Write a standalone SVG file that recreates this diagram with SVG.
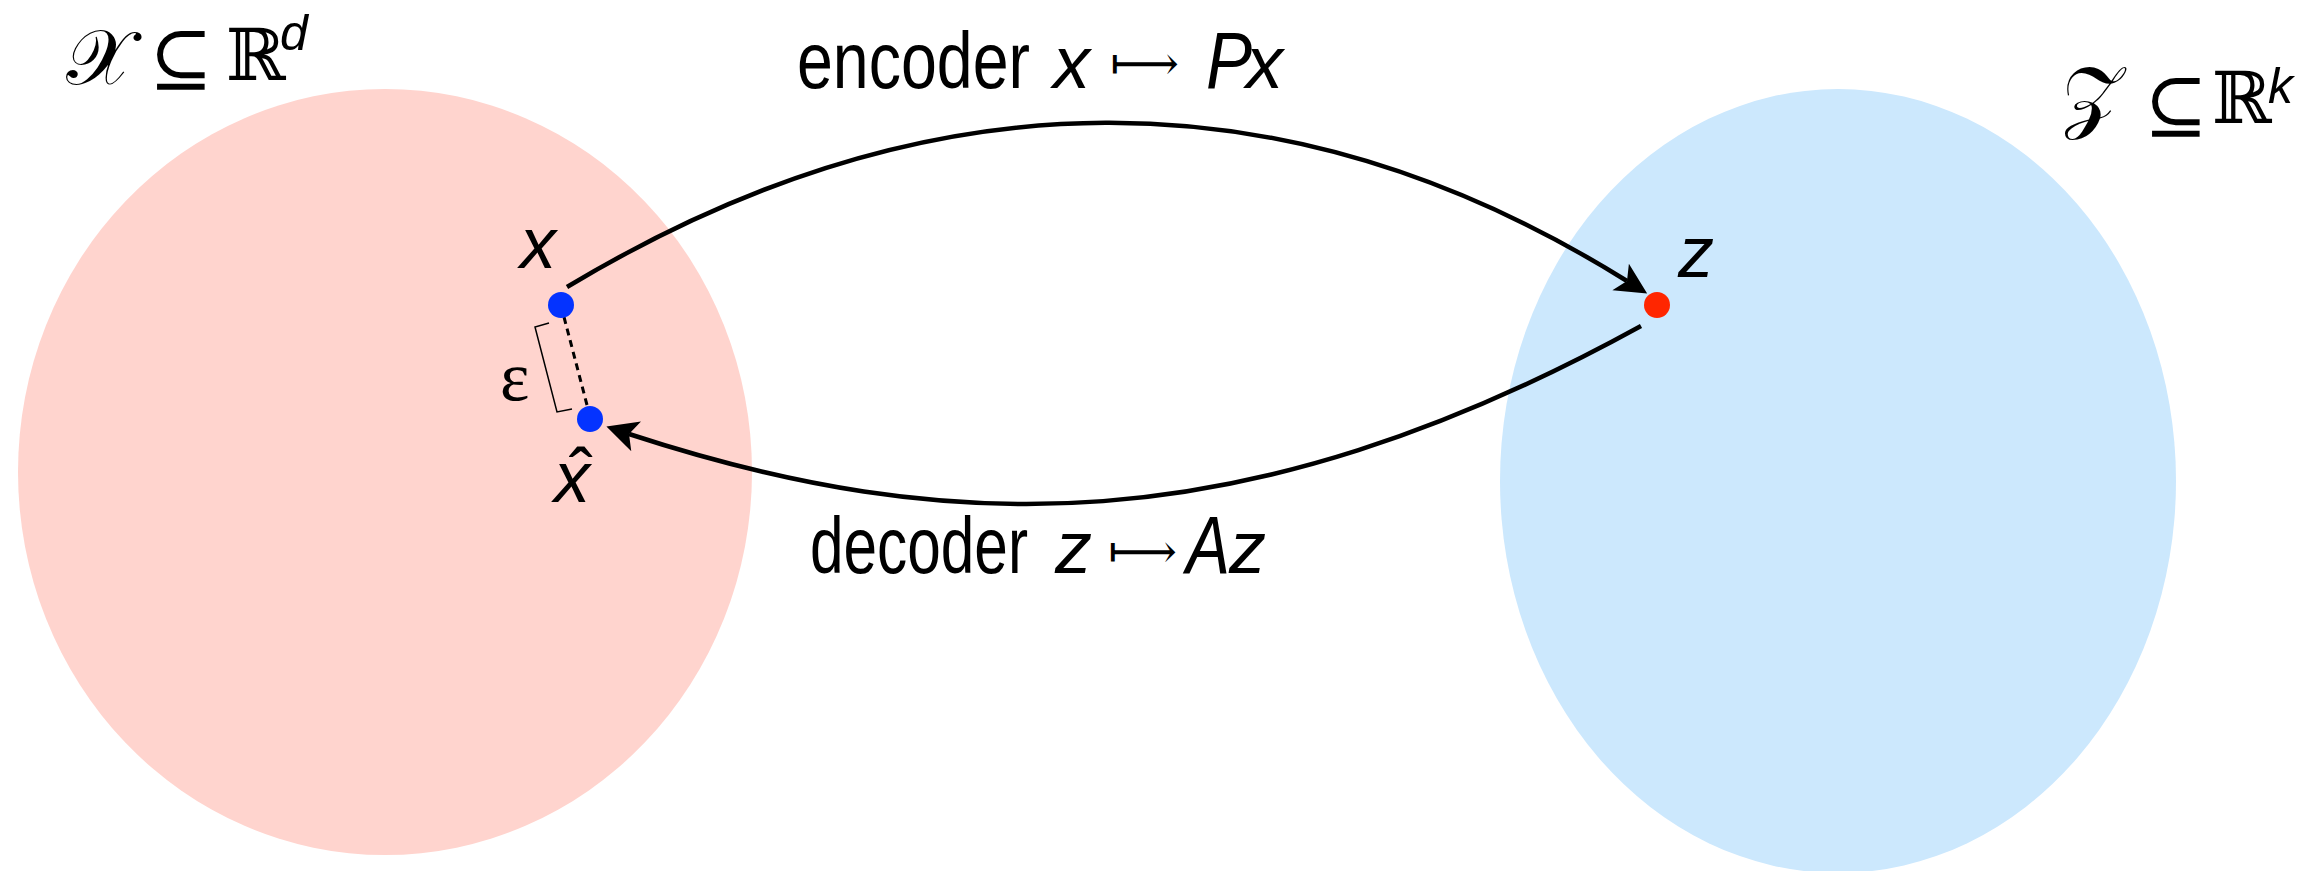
<svg xmlns="http://www.w3.org/2000/svg" width="2303" height="871" viewBox="0 0 2303 871">
<style>
.sans{font-family:"Liberation Sans",Arial,sans-serif;fill:#000}
.it{font-family:"Liberation Sans",Arial,sans-serif;font-style:italic;fill:#000}
.math{font-family:"DejaVu Serif","DejaVu Sans","Noto Sans",serif;fill:#000}
.arrow{fill:none;stroke:#000;stroke-width:4.5}
</style>
<defs>
<marker id="head" markerUnits="userSpaceOnUse" markerWidth="40" markerHeight="40" viewBox="-10 -15 32 30" refX="0" refY="0" orient="auto">
<path d="M19,0 L-6,-12.5 L0,0 L-6,12.5 Z" fill="#000"/>
</marker>
</defs>
<g id="set-X">
<ellipse cx="385" cy="472" rx="367" ry="383" fill="#FFD4CE"/>
<text class="math" x="66" y="84" font-size="78">𝒳</text>
<text class="math" x="149" y="84" font-size="76">⊆</text>
<text class="math" x="226" y="80" font-size="72">ℝ</text>
<text class="it" x="280" y="50" font-size="50">d</text>
</g>
<g id="set-Z">
<ellipse cx="1838" cy="481" rx="338" ry="392" fill="#CCE8FD"/>
<text class="math" x="2062" y="123" font-size="80">𝒵</text>
<text class="math" x="2144" y="131" font-size="76">⊆</text>
<text class="math" x="2212" y="123" font-size="72">ℝ</text>
<text class="it" x="2268" y="103" font-size="50">k</text>
</g>
<g id="connectors">
<path class="arrow" d="M567,287 C930,69 1287,69 1627,281" marker-end="url(#head)"/>
<path class="arrow" d="M1641,326 C1241,546 944,537 629,434" marker-end="url(#head)"/>
<line x1="564" y1="317" x2="587" y2="405" stroke="#000" stroke-width="3" stroke-dasharray="7,5"/>
<polyline points="549,323 535,327 557,412 572,409" fill="none" stroke="#000" stroke-width="1.5"/>
</g>
<g id="node-x">
<circle cx="561" cy="305" r="13" fill="#0433FF"/>
<text class="it" x="520" y="268" font-size="72">x</text>
</g>
<g id="node-xhat">
<circle cx="590" cy="419" r="13" fill="#0433FF"/>
<text class="it" x="554" y="502" font-size="72">x</text>
<text class="sans" x="569" y="500" font-size="72">ˆ</text>
</g>
<g id="node-z">
<circle cx="1657" cy="305" r="13" fill="#FF2600"/>
<text class="it" x="1678" y="277" font-size="72">z</text>
</g>
<g id="labels">
<text x="500" y="400" font-size="70" font-family="Liberation Serif, serif" fill="#000">ε</text>
<text class="sans" x="797" y="88" font-size="80" textLength="233" lengthAdjust="spacingAndGlyphs">encoder</text>
<text class="it" x="1053" y="88" font-size="74">x</text>
<text class="math" x="1110" y="80" font-size="48">⟼</text>
<text class="it" x="1206" y="88" font-size="80" textLength="46" lengthAdjust="spacingAndGlyphs">P</text>
<text class="it" x="1246" y="88" font-size="74">x</text>
<text class="sans" x="810" y="573" font-size="80" textLength="218" lengthAdjust="spacingAndGlyphs">decoder</text>
<text class="it" x="1055" y="573" font-size="74">z</text>
<text class="math" x="1108" y="568" font-size="48">⟼</text>
<text class="it" x="1186" y="573" font-size="82" textLength="44" lengthAdjust="spacingAndGlyphs">A</text>
<text class="it" x="1229" y="573" font-size="74">z</text>
</g>
</svg>
